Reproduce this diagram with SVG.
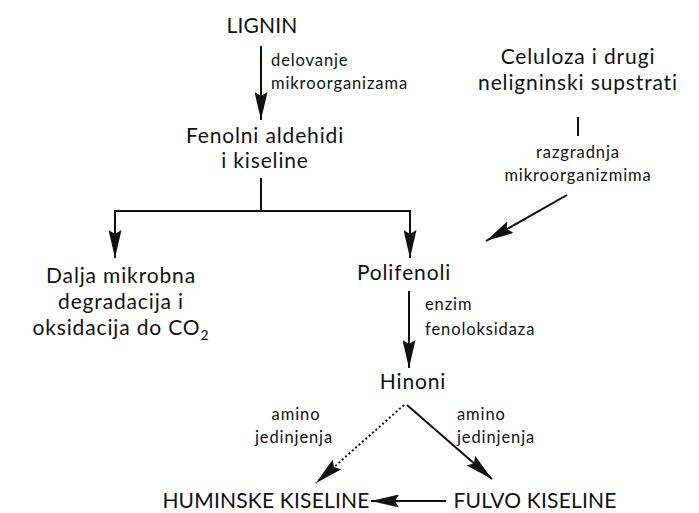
<svg xmlns="http://www.w3.org/2000/svg" width="699" height="513" viewBox="0 0 699 513">
<style>
.t{font-family:Lato,"Open Sans",sans-serif;font-size:21px;fill:#111;text-anchor:middle;letter-spacing:0.85px}
.cap{letter-spacing:0.2px}
.l{font-family:Lato,"Open Sans",sans-serif;font-size:16.5px;fill:#111;letter-spacing:0.9px}
.c{text-anchor:middle}
.ln{stroke:#111;stroke-width:2;fill:none}
</style>
<defs>
<marker id="ah" viewBox="0 0 28 13" refX="28" refY="6.5" markerWidth="28" markerHeight="13" markerUnits="userSpaceOnUse" orient="auto">
<path d="M0,0 L28,6.5 L0,13 L4,6.5 Z" fill="#111"/>
</marker>
</defs>
<rect width="699" height="513" fill="#fff"/>
<g id="connectors">
<line class="ln" x1="261" y1="46" x2="261" y2="120" marker-end="url(#ah)"/>
<polyline class="ln" points="261,178 261,211"/>
<polyline class="ln" points="115,211 410,211"/>
<line class="ln" x1="115" y1="210" x2="115" y2="258" marker-end="url(#ah)"/>
<line class="ln" x1="410" y1="210" x2="410" y2="258" marker-end="url(#ah)"/>
<line class="ln" x1="578" y1="117" x2="578" y2="136"/>
<line class="ln" x1="567" y1="195" x2="486" y2="241" marker-end="url(#ah)"/>
<line class="ln" x1="409" y1="291" x2="409" y2="368" marker-end="url(#ah)"/>
<line class="ln" x1="404" y1="405" x2="316" y2="483" stroke-dasharray="2,2.5" marker-end="url(#ah)"/>
<line class="ln" x1="407" y1="405" x2="492" y2="479" marker-end="url(#ah)"/>
<line class="ln" x1="446" y1="501" x2="371" y2="501" marker-end="url(#ah)"/>
</g>
<g id="lignin"><text class="t cap" x="262" y="33">LIGNIN</text></g>
<g id="lbl-delovanje"><text class="l" x="271" y="66">delovanje</text><text class="l" x="271" y="89">mikroorganizama</text></g>
<g id="fenolni"><text class="t" x="265" y="143">Fenolni aldehidi</text><text class="t" x="265" y="168">i kiseline</text></g>
<g id="celuloza"><text class="t" x="578" y="64">Celuloza i drugi</text><text class="t" x="578" y="90">neligninski supstrati</text></g>
<g id="lbl-razgradnja"><text class="l c" x="578" y="158">razgradnja</text><text class="l c" x="578" y="181">mikroorganizmima</text></g>
<g id="dalja"><text class="t" x="121" y="283">Dalja mikrobna</text><text class="t" x="121" y="309">degradacija i</text><text class="t" x="121" y="335">oksidacija do CO<tspan font-size="14" dy="5">2</tspan></text></g>
<g id="polifenoli"><text class="t" x="404" y="280">Polifenoli</text></g>
<g id="lbl-enzim"><text class="l" x="425" y="310">enzim</text><text class="l" x="425" y="335">fenoloksidaza</text></g>
<g id="hinoni"><text class="t" x="413" y="389">Hinoni</text></g>
<g id="lbl-amino1"><text class="l c" x="296" y="420">amino</text><text class="l c" x="294" y="443">jedinjenja</text></g>
<g id="lbl-amino2"><text class="l" x="457" y="420">amino</text><text class="l" x="457" y="443">jedinjenja</text></g>
<g id="huminske"><text class="t cap" x="266" y="508">HUMINSKE KISELINE</text></g>
<g id="fulvo"><text class="t cap" x="535" y="508">FULVO KISELINE</text></g>
</svg>
